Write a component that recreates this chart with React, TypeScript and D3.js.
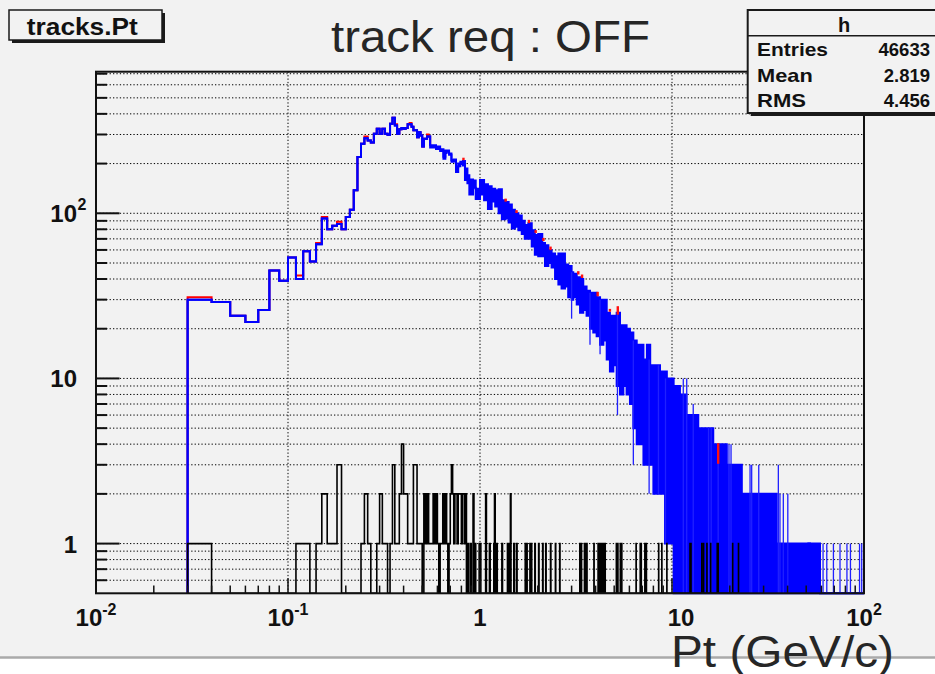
import * as d3 from 'd3';

type Seg = [number, number, number];
type Bin = [number, number];

const W = 935;
const H = 674;

// histogram binning: 0.01 GeV/c bins, first filled bin at 0.03
const binWidth = 0.01;
const lowStart = 0.03;

// bin contents that are wide enough to read one by one (0.03 .. 0.54)
const blueLow = [
  30, 29, 24, 22, 26, 45, 39, 54, 40, 59, 51, 65, 93, 80, 84, 86, 80, 95, 105, 138,
  219, 264, 285, 276, 268, 303, 325, 303, 325, 303, 299, 349, 379, 340, 303, 323, 328, 325, 328, 346,
  346, 334, 318, 318, 289, 310, 296, 254, 283, 283, 292, 292,
];
const redLow = [
  31, 29, 24, 22, 26, 45, 39, 54, 42, 59, 51, 66, 95, 80, 84, 89, 80, 95, 105, 138,
  219, 264, 292, 276, 268, 303, 325, 303, 325, 303, 299, 349, 379, 346, 303, 323, 328, 325, 328, 346,
  352, 334, 318, 318, 289, 310, 296, 254, 283, 283, 300, 292,
];

// past 0.55 the bins are thinner than a pixel: [pt from, min count, max count]
const blueBand: Seg[] = [
  [0.55, 250, 258], [0.59, 245, 254], [0.62, 238, 244], [0.645, 214, 220], [0.66, 232, 240],
  [0.67, 236, 240], [0.69, 226, 230], [0.71, 205, 210], [0.73, 207, 212], [0.75, 178, 190],
  [0.77, 193, 200], [0.79, 199, 205], [0.815, 195, 207], [0.835, 159, 187], [0.86, 152, 170],
  [0.88, 130, 160], [0.92, 143, 158], [0.95, 122, 141], [1.0, 130, 159], [1.05, 120, 150],
  [1.1, 106, 146], [1.15, 118, 141], [1.2, 110, 138], [1.25, 100, 140], [1.3, 92, 120],
  [1.355, 93, 117], [1.41, 88, 113], [1.465, 81, 105], [1.52, 83, 100], [1.585, 79, 97],
  [1.65, 75, 90], [1.71, 70, 85], [1.785, 70, 87], [1.86, 63, 79], [1.93, 56, 74],
  [2.01, 55, 75], [2.11, 55, 66], [2.18, 48, 64], [2.27, 50, 60], [2.36, 47, 57],
  [2.46, 40, 55], [2.56, 37, 57], [2.66, 35, 57], [2.77, 36, 49], [2.88, 31, 48],
  [3.0, 30, 44], [3.06, 31, 43], [3.19, 28, 41], [3.32, 25, 40], [3.45, 26, 36],
  [3.59, 24, 34], [3.74, 20, 33], [3.89, 19, 33], [4.05, 18, 31], [4.22, 16, 30],
  [4.39, 17, 30], [4.57, 13, 25], [4.75, 11, 24], [4.95, 12, 24], [5.15, 9, 25],
  [5.36, 8, 21], [5.58, 9, 21], [5.8, 8, 20], [6.04, 7, 19], [6.29, 5, 17],
  [6.55, 4, 16], [6.81, 4, 16], [7.1, 3, 13], [7.4, 3, 16], [7.7, 3, 12],
  [8.0, 2, 12], [8.66, 2, 11], [9.2, 1, 11], [9.4, 1, 10], [10.2, 0, 9],
  [11.0, 0, 8], [11.9, 0, 6], [13.7, 0, 5], [14.85, 0, 5], [16.4, 0, 4],
  [18.1, 0, 4], [19.3, 0, 3], [23.1, 0, 2], [35.1, 0, 1], [51.3, 1, 1],
  [52.3, 0, 1], [59, 0, 0],
];

// single thin bins sticking out of the band: [pt, low, high]
const blueSpikes: Seg[] = [
  [3.0, 23, 44], [3.74, 16, 33], [4.22, 14, 30], [5.2, 6, 25], [6.29, 3, 17],
  [7.6, 2, 13], [8.5, 2, 12], [9.25, 1, 10], [11.45, 0, 10], [11.93, 0, 10],
  [12.9, 0, 7], [15.5, 0, 5], [16.0, 0, 5], [17.4, 0, 4], [19.8, 0, 4],
  [20.3, 0, 4], [25.5, 0, 3], [26.0, 0, 3], [28.3, 0, 3], [35.8, 0, 3],
  [36.5, 0, 2], [38.0, 0, 2], [40.1, 0, 2], [61.2, 0, 1], [64, 0, 1],
  [69.3, 0, 1], [75, 0, 1], [81.5, 0, 1], [85, 0, 1], [94.8, 0, 1], [97.3, 0, 1],
];

// red peeking over the blue in the tail: [pt, top, bottom]
const redTail: Seg[] = [
  [0.82, 214, 207], [1.36, 121, 116], [1.55, 103, 99], [1.8, 90, 86], [1.95, 78, 75],
  [2.14, 70, 67], [2.33, 62, 59], [3.25, 44, 42], [3.4, 42, 40], [4.1, 33, 31],
  [4.75, 26, 25], [5.22, 27, 24], [17.4, 4, 3],
];

// third histogram, few entries: [bin start, count]
const blackBins: Bin[] = [
  [0.03, 1], [0.11, 1], [0.12, 1], [0.14, 1], [0.15, 2], [0.16, 1], [0.17, 1], [0.18, 3],
  [0.24, 1], [0.25, 2], [0.26, 1], [0.29, 1], [0.3, 2], [0.31, 1], [0.32, 1],
  [0.34, 1], [0.35, 3], [0.36, 1], [0.37, 1], [0.38, 2], [0.39, 4], [0.4, 2], [0.41, 2],
  [0.42, 1], [0.43, 1], [0.44, 1], [0.45, 3], [0.46, 3], [0.47, 1], [0.48, 1], [0.49, 1],
  [0.51, 2], [0.52, 1], [0.53, 2], [0.54, 1], [0.55, 1], [0.56, 1], [0.57, 2], [0.58, 1],
  [0.59, 2], [0.6, 1], [0.62, 1], [0.63, 1], [0.64, 2], [0.65, 1], [0.66, 2], [0.67, 1],
  [0.69, 1], [0.7, 2], [0.71, 3], [0.72, 2], [0.73, 1], [0.74, 2], [0.75, 2], [0.76, 1],
  [0.77, 2], [0.78, 2], [0.79, 2], [0.8, 1], [0.81, 2], [0.82, 2], [0.83, 1], [0.84, 2],
  [0.86, 1], [0.89, 1], [0.92, 2], [0.94, 1], [0.99, 1], [1.0, 1], [1.07, 2], [1.12, 1],
  [1.18, 1], [1.19, 2], [1.22, 1], [1.3, 1], [1.39, 1], [1.42, 1], [1.44, 2], [1.5, 1],
  [1.55, 1], [1.72, 1], [1.75, 1], [1.82, 1], [1.85, 1], [1.93, 1], [2.02, 1], [2.12, 1],
  [2.2, 1], [2.33, 1], [2.47, 1], [2.6, 1],
  [3.31, 1], [3.37, 1], [3.5, 1], [3.53, 1], [3.57, 1], [3.6, 1], [3.92, 1], [4.12, 1],
  [4.16, 1], [4.22, 1], [4.28, 1], [4.35, 1], [4.41, 1], [4.48, 1], [5.13, 1], [5.22, 1],
  [5.38, 1], [5.47, 1], [6.5, 1], [6.83, 1], [6.91, 1], [7.22, 1], [7.35, 1], [8.52, 1],
  [8.85, 1], [9.4, 1], [12.41, 1], [12.55, 1], [14.3, 1], [14.6, 1], [15.2, 1], [15.9, 1],
  [17.2, 1], [17.4, 1], [20.7, 1], [22.2, 1],
];

const xTickValues = [0.01, 0.1, 1, 10, 100];
const xTickLabels = [['10', '-2'], ['10', '-1'], ['1', ''], ['10', ''], ['10', '2']];
const yTickValues = [1, 10, 100];
const yTickLabels = [['1', ''], ['10', ''], ['10', '2']];

const statNames = ['Entries', 'Mean', 'RMS'];
const statValues = ['46633', '2.819', '4.456'];

const font = 'Liberation Sans, Arial, Helvetica, sans-serif';
const bg = '#f2f2f2';

export default function App() {
  const x = d3.scaleLog().domain([0.01, 100]).range([96, 864]);
  const y = d3.scaleLog().domain([0.5, 720]).range([593.3, 71.7]).clamp(true);
  const yc = (c: number) => y(Math.max(c, 0.5));
  const [x0, x1] = x.range();
  const [yb, yt] = y.range();

  const binAt = (i: number) => +(lowStart + i * binWidth).toFixed(2);
  const lowSegs: Seg[] = blueLow.map((c, i) => [binAt(i), c, c]);
  const lastSeg = blueBand[blueBand.length - 1];
  const bluePts: Seg[] = [[lowStart, 0, 0], ...lowSegs, ...blueBand, [100, lastSeg[1], lastSeg[2]]];

  const area = d3.area<Seg>().x(d => x(d[0])).y0(d => yc(d[1])).y1(d => yc(d[2])).curve(d3.curveStepAfter);
  const hiLine = d3.line<Seg>().x(d => x(d[0])).y(d => yc(d[2])).curve(d3.curveStepAfter);
  const loLine = d3.line<Seg>().x(d => x(d[0])).y(d => yc(d[1])).curve(d3.curveStepAfter);
  const step = d3.line<Bin>().x(d => x(d[0])).y(d => yc(d[1])).curve(d3.curveStepAfter);

  const redPts: Bin[] = [[lowStart, 0], ...redLow.map((c, i) => [binAt(i), c] as Bin), [binAt(redLow.length), blueBand[0][2]]];

  // black histogram as one step outline, dropping to the floor between filled bins
  const blackPts: Bin[] = [];
  blackBins.forEach(([v, c], i) => {
    const prev = blackBins[i - 1];
    const next = blackBins[i + 1];
    if (!prev || Math.abs(prev[0] + binWidth - v) > 1e-6) blackPts.push([v, 0]);
    blackPts.push([v, c]);
    if (!next || Math.abs(v + binWidth - next[0]) > 1e-6) blackPts.push([v + binWidth, 0]);
  });

  const yGrid: number[] = [];
  const yMinor: number[] = [];
  for (let e = -1; e <= 2; e++) {
    for (let k = 1; k <= 9; k++) {
      const v = k * Math.pow(10, e);
      if (v > 0.5 && v < 720) {
        yGrid.push(v);
        if (k > 1) yMinor.push(v);
      }
    }
  }
  const xMinor: number[] = [];
  for (let e = -2; e <= 1; e++) for (let k = 2; k <= 9; k++) xMinor.push(k * Math.pow(10, e));

  const grid = { stroke: '#000', strokeWidth: 1, strokeDasharray: '1.3 2.1' };

  return (
    <svg width={W} height={H} style={{ position: 'absolute', left: 0, top: 0 }} fontFamily={font}>
      <rect width={W} height={H} fill="#fff" />
      <rect width={W} height={657} fill={bg} />
      <line x1={0} x2={W} y1={657.5} y2={657.5} stroke="#aaa" strokeWidth={2.5} />

      {/* grid */}
      {yGrid.map(v => (
        <line key={'gy' + v} x1={x0} x2={x1} y1={y(v)} y2={y(v)} {...grid} />
      ))}
      {[0.1, 1, 10].map(v => (
        <line key={'gx' + v} x1={x(v)} x2={x(v)} y1={yt} y2={yb} {...grid} />
      ))}

      {/* histograms */}
      <path d={step(redPts) ?? ''} fill="none" stroke="#ff0000" strokeWidth={2} />
      <path d={area(bluePts) ?? ''} fill="#0000ff" />
      <path d={hiLine(bluePts) ?? ''} fill="none" stroke="#0000ff" strokeWidth={2} />
      <path d={loLine(bluePts) ?? ''} fill="none" stroke="#0000ff" strokeWidth={2} />
      {blueSpikes.map(([v, lo, hi]) => (
        <line key={'s' + v} x1={x(v)} x2={x(v)} y1={yc(lo)} y2={yc(hi)} stroke="#2020ff" strokeWidth={1.3} />
      ))}
      {redTail.map(([v, top, bot]) => (
        <rect key={'r' + v} x={x(v) - 1.2} y={yc(top) - 1} width={2.4} height={Math.max(2.5, yc(bot) - yc(top))} fill="#ff1010" />
      ))}
      <path d={step(blackPts) ?? ''} fill="none" stroke="#000" strokeWidth={1.6} />

      {/* frame and ticks */}
      <rect x={x0} y={yt} width={x1 - x0} height={yb - yt} fill="none" stroke="#111" strokeWidth={2} />
      {yTickValues.map(v => (
        <line key={'yt' + v} x1={x0} x2={x0 + 23.5} y1={y(v)} y2={y(v)} stroke="#111" strokeWidth={2} />
      ))}
      {yMinor.map(v => (
        <line key={'ym' + v} x1={x0} x2={x0 + 11} y1={y(v)} y2={y(v)} stroke="#111" strokeWidth={2} />
      ))}
      {[0.1, 1, 10].map(v => (
        <line key={'xt' + v} x1={x(v)} x2={x(v)} y1={yb} y2={yb - 15} stroke="#111" strokeWidth={1.5} />
      ))}
      {xMinor.map(v => (
        <line key={'xm' + v} x1={x(v)} x2={x(v)} y1={yb} y2={yb - 7.7} stroke="#111" strokeWidth={1.5} />
      ))}

      {/* axis labels */}
      {xTickValues.map((v, i) => (
        <text key={'xl' + v} x={x(v) + (v === 10 ? 9 : 0)} y={625.7} textAnchor="middle" fontWeight="bold" fontSize={24} fill="#111">
          {xTickLabels[i][0]}
          {xTickLabels[i][1] && (
            <tspan dy={-11} fontSize={16}>{xTickLabels[i][1]}</tspan>
          )}
        </text>
      ))}
      {yTickValues.map((v, i) => (
        <g key={'yl' + v}>
          <text x={77} y={y(v) + 9} textAnchor="end" fontWeight="bold" fontSize={24} fill="#111">
            {yTickLabels[i][0]}
          </text>
          {yTickLabels[i][1] && (
            <text x={77.5} y={y(v) - 3} fontWeight="bold" fontSize={16} fill="#111">
              {yTickLabels[i][1]}
            </text>
          )}
        </g>
      ))}

      {/* histogram name box */}
      <rect x={12} y={13} width={153} height={30} fill="#1a1a1a" />
      <rect x={9} y={10} width={153} height={30} fill={bg} stroke="#1a1a1a" strokeWidth={1.5} />
      <text x={26.8} y={35} fontWeight="bold" fontSize={23} textLength={111} lengthAdjust="spacingAndGlyphs" fill="#111">
        tracks.Pt
      </text>

      {/* stats box */}
      <rect x={750.7} y={13} width={200} height={103} fill="#1a1a1a" />
      <rect x={747.7} y={10} width={200} height={103} fill={bg} stroke="#1a1a1a" strokeWidth={2} />
      <line x1={747.7} x2={W} y1={35.7} y2={35.7} stroke="#1a1a1a" strokeWidth={1.5} />
      <text x={844} y={31.5} textAnchor="middle" fontWeight="bold" fontSize={20} fill="#111">h</text>
      {statNames.map((n, i) => (
        <g key={n}>
          <text x={757} y={56 + i * 25.7} fontWeight="bold" fontSize={18.5} fill="#111"
            textLength={[71, 55.7, 49][i]} lengthAdjust="spacingAndGlyphs">
            {n}
          </text>
          <text x={930} y={56 + i * 25.7} textAnchor="end" fontWeight="bold" fontSize={18.5} fill="#111">
            {statValues[i]}
          </text>
        </g>
      ))}

      {/* title and axis title */}
      <text x={331} y={51.7} fontSize={45} fill="#262626" textLength={319} lengthAdjust="spacingAndGlyphs">
        track req : OFF
      </text>
      <text x={671} y={666.7} fontSize={45} fill="#262626" textLength={223} lengthAdjust="spacingAndGlyphs">
        Pt (GeV/c)
      </text>
    </svg>
  );
}
